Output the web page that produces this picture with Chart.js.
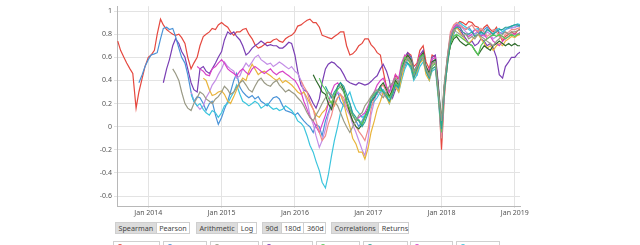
<!DOCTYPE html>
<html><head><meta charset="utf-8">
<script src="https://cdn.jsdelivr.net/npm/chart.js@4/dist/chart.umd.min.js"></script>
<style>
html,body{margin:0;padding:0;background:#fff;width:640px;height:245px;overflow:hidden;font-family:"Noto Sans",sans-serif;}
#wrap{position:absolute;left:0;top:0;width:640px;height:218px;}
.grp{position:absolute;top:222px;height:12px;display:flex;border:1px solid #cfcfcf;box-sizing:border-box;}
.grp span{font-size:7.2px;line-height:10px;padding:0 2.5px;color:#444;border-right:1px solid #cfcfcf;white-space:nowrap;}
.grp span:last-child{border-right:none;}
.grp span.on{background:#dcdcdc;}
.lg{position:absolute;top:241px;height:12px;border:1px solid #d0d0d0;box-sizing:border-box;font-size:7px;color:#444;line-height:12px;padding-left:12px;white-space:nowrap;overflow:hidden;}
.lg i{position:absolute;left:3px;top:2px;width:4px;height:4px;border-radius:50%;border:1.2px solid;}
</style></head><body>
<div id="wrap"><canvas id="c" width="640" height="218"></canvas></div>
<div class="grp" style="left:115px;width:75px"><span class="on" style="width:36px">Spearman</span><span>Pearson</span></div>
<div class="grp" style="left:196px;width:61px"><span class="on">Arithmetic</span><span>Log</span></div>
<div class="grp" style="left:262px;width:64px"><span class="on">90d</span><span>180d</span><span>360d</span></div>
<div class="grp" style="left:331px;width:78px"><span class="on">Correlations</span><span>Returns</span></div>
<div id="legend"></div>
<script>
// Sample dates: 1st and 15th of each month, Aug 2013 .. Jan 2019, plus 1 Feb 2019
const months = [
"2013-08","2013-09","2013-10","2013-11","2013-12",
"2014-01","2014-02","2014-03","2014-04","2014-05","2014-06","2014-07","2014-08","2014-09","2014-10","2014-11","2014-12",
"2015-01","2015-02","2015-03","2015-04","2015-05","2015-06","2015-07","2015-08","2015-09","2015-10","2015-11","2015-12",
"2016-01","2016-02","2016-03","2016-04","2016-05","2016-06","2016-07","2016-08","2016-09","2016-10","2016-11","2016-12",
"2017-01","2017-02","2017-03","2017-04","2017-05","2017-06","2017-07","2017-08","2017-09","2017-10","2017-11","2017-12",
"2018-01","2018-02","2018-03","2018-04","2018-05","2018-06","2018-07","2018-08","2018-09","2018-10","2018-11","2018-12",
"2019-01"];
const days = ["01","15"];
const lastDate = "2019-02-01";
const _ = null;

const red = [
.74,.66,.60,.55,.50,.46,.16,.30,.42,.52,
.60,.62,.66,.80,.93,.88,.84,.82,.80,.79,.80,.77,.72,.60,.50,.55,.60,.70,.78,.80,.82,.85,.84,.88,
.90,.88,.86,.82,.79,.82,.82,.84,.85,.80,.76,.71,.68,.69,.71,.73,.73,.75,.76,.74,.73,.76,.78,.79,
.82,.87,.88,.90,.92,.93,.90,.90,.86,.79,.78,.77,.76,.78,.80,.82,.82,.70,.62,.63,.66,.70,.72,.76,
.76,.71,.68,.64,.62,.48,.34,.30,.36,.45,.40,.50,.58,.64,.62,.52,.55,.66,.70,.56,.50,.62,.60,.35,
-.20,.25,.58,.75,.84,.88,.91,.90,.88,.91,.90,.87,.86,.82,.86,.88,.84,.82,.86,.80,.74,.78,.80,.82,
.80,.83,.85];
const blue = [
_,_,_,_,_,_,_,.38,.45,.52,
.58,.62,.63,.64,.76,.85,.86,.84,.85,.78,.68,.60,.55,.45,.30,.22,.26,.25,.20,.14,.20,.22,.10,.02,
.08,.15,.22,.30,.40,.46,.34,.30,.27,.25,.27,.24,.26,.22,.20,.18,.22,.25,.26,.24,.18,.14,.13,.12,
.10,.12,.08,.05,.02,.00,-.05,.02,.00,-.08,.05,.12,.20,.25,.30,.22,.18,.25,.20,.10,.05,.00,.05,.10,
.15,.20,.30,.28,.35,.30,.25,.22,.30,.38,.32,.45,.52,.58,.60,.50,.45,.58,.62,.50,.42,.55,.58,.30,
-.05,.30,.55,.72,.80,.86,.88,.86,.84,.86,.82,.80,.82,.78,.84,.86,.82,.80,.84,.82,.80,.84,.85,.86,
.86,.87,.87];
const purple = [
_,_,_,_,_,_,_,_,_,_,
_,_,_,_,_,.38,.50,.58,.70,.76,.72,.65,.60,.50,.38,.32,.30,.50,.52,.48,.46,.50,.55,.60,
.65,.75,.82,.80,.82,.78,.75,.70,.62,.64,.68,.70,.72,.74,.72,.70,.71,.70,.70,.68,.68,.70,.73,.72,
.62,.48,.36,.32,.30,.26,.20,.16,.24,.38,.50,.54,.56,.55,.52,.50,.45,.40,.38,.37,.36,.38,.37,.36,
.37,.39,.42,.44,.50,.54,.48,.40,.25,.32,.38,.50,.60,.64,.60,.45,.50,.62,.66,.50,.45,.60,.62,.38,
.00,.35,.60,.75,.82,.86,.84,.80,.76,.72,.74,.70,.72,.76,.74,.70,.72,.68,.60,.45,.42,.52,.56,.60,
.60,.63,.65];
const lavender = [
_,_,_,_,_,_,_,_,_,_,
_,_,_,_,_,_,_,_,_,_,_,_,_,_,.30,.22,.18,.15,.18,.25,.30,.36,.40,.45,
.50,.56,.52,.50,.48,.42,.44,.50,.55,.52,.56,.60,.62,.58,.56,.54,.55,.52,.54,.56,.54,.52,.50,.52,
.48,.46,.40,.30,.22,.10,.02,-.08,-.18,-.12,-.02,.10,.18,.25,.30,.28,.22,.15,.10,.02,-.05,-.12,-.20,-.25,
-.10,.10,.22,.30,.30,.28,.25,.30,.35,.42,.40,.52,.60,.58,.55,.45,.52,.60,.62,.52,.46,.58,.55,.30,
-.05,.35,.62,.80,.86,.90,.88,.85,.82,.80,.78,.80,.84,.80,.78,.82,.80,.76,.78,.80,.82,.84,.86,.85,
.86,.88,.88];
const gold = [
_,_,_,_,_,_,_,_,_,_,
_,_,_,_,_,_,_,_,_,_,_,_,_,_,_,_,_,_,.42,.40,.32,.27,.28,.30,
.31,.28,.22,.20,.26,.32,.38,.42,.40,.48,.54,.50,.45,.47,.48,.46,.44,.42,.40,.42,.38,.40,.38,.36,
.33,.30,.28,.30,.25,.20,.15,.10,.08,.12,.15,.20,.22,.18,.25,.28,.20,.10,.00,-.10,-.15,-.22,-.22,-.28,
-.18,-.05,.05,.15,.22,.30,.25,.20,.28,.35,.30,.42,.55,.60,.52,.42,.48,.55,.58,.45,.40,.50,.52,.28,
.02,.30,.55,.72,.82,.86,.82,.78,.74,.72,.75,.78,.80,.76,.72,.68,.70,.66,.70,.72,.70,.74,.76,.78,
.77,.79,.80];
const cyan = [
_,_,_,_,_,_,_,_,_,_,
_,_,_,_,_,_,_,_,_,_,_,_,_,_,.28,.22,.18,.20,.15,.12,.10,.14,.12,.08,
.12,.18,.20,.25,.30,.36,.28,.22,.20,.18,.20,.22,.20,.16,.18,.20,.17,.15,.16,.14,.15,.18,.16,.14,
.10,.05,.03,.00,-.08,-.16,-.22,-.30,-.38,-.48,-.53,-.42,-.25,-.12,.00,.12,.20,.25,.30,.22,.15,.12,.08,.10,
.12,.18,.22,.25,.30,.32,.28,.20,.28,.35,.30,.40,.50,.55,.50,.40,.45,.52,.56,.48,.40,.48,.50,.25,
-.10,.30,.55,.72,.82,.88,.90,.88,.86,.84,.82,.84,.85,.80,.80,.84,.82,.80,.84,.85,.82,.84,.86,.87,
.88,.89,.88];
const gray = [
_,_,_,_,_,_,_,_,_,_,
_,_,_,_,_,_,_,_,.50,.46,.40,.30,.20,.16,.14,.20,.25,.30,.28,.24,.22,.20,.24,.26,
.30,.35,.32,.28,.30,.34,.38,.40,.36,.32,.30,.35,.40,.42,.38,.36,.35,.38,.40,.36,.33,.30,.32,.30,
.28,.25,.22,.18,.12,.08,.05,.10,.15,.20,.25,.30,.28,.22,.18,.12,.05,.00,-.05,.00,.05,.10,.12,.18,
.22,.26,.30,.32,.28,.25,.30,.35,.38,.42,.38,.48,.55,.60,.56,.48,.52,.58,.60,.50,.44,.55,.56,.32,
.05,.38,.62,.78,.84,.82,.80,.78,.80,.76,.78,.76,.80,.78,.76,.74,.72,.70,.74,.76,.80,.82,.80,.82,
.82,.83,.84];
const magenta = [
_,_,_,_,_,_,_,_,_,_,
_,_,_,_,_,_,_,_,_,_,_,_,_,_,_,_,.52,.50,.48,.45,.44,.50,.52,.55,
.58,.55,.50,.48,.46,.44,.48,.50,.47,.45,.50,.52,.50,.48,.46,.48,.50,.47,.45,.47,.48,.46,.44,.42,
.40,.36,.30,.22,.15,.08,.05,.00,-.05,.02,.10,.20,.30,.36,.38,.34,.30,.22,.15,.10,.05,.08,.10,.12,
.18,.25,.30,.36,.40,.42,.35,.30,.38,.45,.42,.55,.62,.60,.56,.46,.54,.62,.64,.52,.48,.58,.60,.32,
-.08,.32,.60,.78,.86,.88,.86,.82,.80,.78,.80,.84,.82,.78,.80,.76,.78,.74,.72,.70,.74,.76,.78,.80,
.80,.80,.82];
const darkgreen = [
_,_,_,_,_,_,_,_,_,_,
_,_,_,_,_,_,_,_,_,_,_,_,_,_,_,_,_,_,_,_,_,_,_,_,
_,_,_,_,_,_,_,_,_,_,_,_,_,_,_,_,_,_,_,_,_,_,_,_,
_,_,_,_,_,_,.45,.40,.35,.30,.28,.20,.15,.25,.35,.38,.32,.22,.12,.05,.00,-.02,.02,.08,
.15,.22,.25,.30,.35,.38,.32,.26,.32,.40,.36,.50,.58,.62,.58,.48,.52,.60,.64,.52,.46,.56,.58,.35,
.05,.35,.58,.70,.76,.78,.74,.72,.70,.72,.70,.66,.62,.66,.70,.68,.66,.70,.72,.74,.72,.70,.72,.70,
.72,.70,.70];
const green = [
_,_,_,_,_,_,_,_,_,_,
_,_,_,_,_,_,_,_,_,_,_,_,_,_,_,_,_,_,_,_,_,_,_,_,
_,_,_,_,_,_,_,_,_,_,_,_,_,_,_,_,_,_,_,_,_,_,_,_,
_,_,_,_,_,_,_,_,.42,.36,.32,.25,.20,.28,.32,.35,.30,.22,.15,.10,.05,.06,.02,.08,
.15,.25,.28,.30,.32,.30,.28,.25,.30,.38,.35,.52,.60,.58,.55,.46,.52,.60,.62,.50,.44,.52,.55,.28,
-.05,.32,.58,.72,.78,.80,.78,.76,.74,.72,.70,.66,.62,.70,.74,.76,.78,.80,.78,.80,.78,.76,.78,.80,
.78,.80,.80];
const teal = [
_,_,_,_,_,_,_,_,_,_,
_,_,_,_,_,_,_,_,_,_,_,_,_,_,_,_,_,_,_,_,_,_,_,_,
_,_,_,_,_,_,_,_,_,_,_,_,_,_,_,_,_,_,_,_,_,_,_,_,
_,_,_,_,_,_,_,_,_,_,.35,.30,.25,.30,.34,.38,.35,.28,.20,.12,.08,.05,.00,.04,
.12,.22,.26,.30,.34,.30,.26,.22,.28,.36,.34,.48,.56,.55,.52,.42,.50,.56,.60,.48,.42,.50,.52,.30,
-.02,.32,.56,.74,.84,.86,.86,.82,.80,.80,.82,.78,.80,.82,.80,.84,.82,.80,.82,.84,.84,.86,.86,.87,
.88,.88,.87];
const pink = [
_,_,_,_,_,_,_,_,_,_,
_,_,_,_,_,_,_,_,_,_,_,_,_,_,_,_,_,_,_,_,_,_,_,_,
_,_,_,_,_,_,_,_,_,_,_,_,_,_,_,_,_,_,_,_,_,_,_,_,
_,_,.40,.35,.30,.22,.15,.05,-.05,-.12,-.08,.02,.10,.20,.25,.28,.25,.18,.12,.05,.00,-.04,-.08,-.12,
-.02,.15,.26,.30,.34,.36,.30,.26,.32,.40,.36,.50,.60,.62,.58,.46,.52,.60,.62,.50,.46,.54,.55,.30,
-.10,.35,.62,.82,.88,.90,.88,.86,.84,.86,.88,.84,.82,.85,.82,.78,.80,.84,.82,.78,.76,.80,.82,.84,
.84,.85,.86];

const xTicks = [2014,2015,2016,2017,2018,2019];
const xTickLabels = ["Jan 2014","Jan 2015","Jan 2016","Jan 2017","Jan 2018","Jan 2019"];
const yTicks = [-0.6,-0.4,-0.2,0,0.2,0.4,0.6,0.8,1];
const yTickLabels = ["-0.6","-0.4","-0.2","0","0.2","0.4","0.6","0.8","1"];

const seriesList = [
  {name:"gray", data:gray, color:"#9a9a86"},
  {name:"teal", data:teal, color:"#2aa39a"},
  {name:"green", data:green, color:"#58c85a"},
  {name:"darkgreen", data:darkgreen, color:"#2f6b2c"},
  {name:"pink", data:pink, color:"#f08a8a"},
  {name:"magenta", data:magenta, color:"#d844c8"},
  {name:"gold", data:gold, color:"#e9b43c"},
  {name:"cyan", data:cyan, color:"#3cc5dd"},
  {name:"lavender", data:lavender, color:"#c38ee6"},
  {name:"blue", data:blue, color:"#4a93d8"},
  {name:"purple", data:purple, color:"#7a3fb4"},
  {name:"red", data:red, color:"#e5483f"}
];
const dateStrings = [];
months.forEach(m=>days.forEach(d=>dateStrings.push(m+"-"+d)));
dateStrings.push(lastDate);
function dec(s){const p=s.split("-");return +p[0]+(+p[1]-1)/12+(+p[2]-1)/365;}
const xs = dateStrings.map(dec);
const datasets = seriesList.map(s=>({
  label:s.name,
  data:s.data.map((v,i)=>({x:xs[i],y:v})),
  borderColor:s.color, borderWidth:1.2, pointRadius:0, fill:false, spanGaps:false, tension:0
}));
const font = {family:"Noto Sans", size:7};
new Chart(document.getElementById("c"),{
  type:"line",
  data:{datasets},
  options:{
    animation:false, responsive:false, events:[],
    layout:{padding:{left:0,right:120,top:0,bottom:0}},
    plugins:{legend:{display:false},tooltip:{enabled:false}},
    scales:{
      x:{type:"linear",min:2013.573,max:2019.071,
        afterBuildTicks:a=>{a.ticks=xTicks.map(v=>({value:v}));},
        afterFit:a=>{a.height=12;},
        ticks:{font,color:"#555",padding:1,maxRotation:0,autoSkip:false,
          callback:(v)=>{const k=xTicks.indexOf(v);return k>=0?xTickLabels[k]:"";}},
        grid:{color:"#e3e3e3",tickLength:2},
        border:{color:"#b8b8b8"}},
      y:{type:"linear",min:-0.686,max:1.042,
        afterBuildTicks:a=>{a.ticks=yTicks.map(v=>({value:v}));},
        afterFit:a=>{a.width=117;},
        ticks:{font,color:"#555",padding:2,
          callback:(v)=>{const k=yTicks.findIndex(t=>Math.abs(t-v)<1e-9);return k>=0?yTickLabels[k]:"";}},
        grid:{color:"#e3e3e3",tickLength:3},
        border:{color:"#b8b8b8"}}
    }
  }
});
// HTML legend row (partly cut off by the window)
const legendNames = ["BTC–LTC","BTC–XRP","BTC–DOGE","BTC–DASH","BTC–XMR","BTC–ETH","BTC–XEM","BTC–ETC"];
const legendColors = ["#e5483f","#4a93d8","#9a9a86","#7a3fb4","#58c85a","#2aa39a","#d844c8","#3cc5dd"];
const legendLeft = [113,163,210,262,316,363,410,456];
const legendW = [47,44,49,51,44,45,43,44];
const lg = document.getElementById("legend");
legendNames.forEach((n,i)=>{
  const d=document.createElement("div");d.className="lg";
  d.style.left=legendLeft[i]+"px";d.style.width=legendW[i]+"px";
  d.innerHTML='<i style="border-color:'+legendColors[i]+'"></i>'+n;
  lg.appendChild(d);
});
</script>
</body></html>
